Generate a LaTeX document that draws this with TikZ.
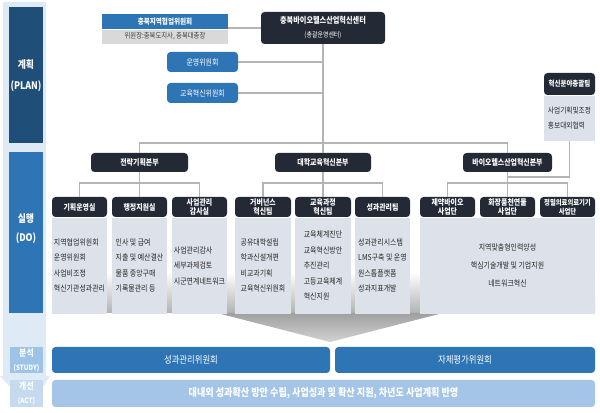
\documentclass[tikz,border=0pt]{standalone}
\usepackage{fontspec}
\setmainfont{Noto Sans CJK KR}[FakeStretch=0.85]
\usetikzlibrary{positioning}

\newcommand{\unitpx}{0.025cm}

\definecolor{planblue}{HTML}{1F4E79}
\definecolor{doblue}{HTML}{2E75B6}
\definecolor{studylabel}{HTML}{9DC3E6}
\definecolor{actlabel}{HTML}{C5DAEF}
\definecolor{stripblue}{HTML}{DEEBF7}
\definecolor{actbar}{HTML}{A4C5E7}
\definecolor{darkhead}{HTML}{242A35}
\definecolor{cellgray}{HTML}{DDE2EA}
\definecolor{subgray}{HTML}{D9D9D9}
\definecolor{linegray}{HTML}{B4B4B4}

\tikzset{
    phase/.style={text=white, inner sep=0pt, align=center},
    headbox/.style={fill=darkhead, text=white, rounded corners=2.5pt,
        inner sep=0pt, align=center},
    bluebox/.style={fill=doblue, text=white, rounded corners=2.5pt,
        inner sep=0pt, align=center},
    cellbox/.style={fill=cellgray, text=black!85, inner sep=0pt,
        font=\fontsize{5.8}{11}\selectfont},
    colhead/.style={headbox, minimum width=55*\unitpx,
        minimum height=20*\unitpx,
        font=\bfseries\fontsize{5.8}{6.6}\selectfont},
    colbody/.style={cellbox, minimum width=55*\unitpx,
        minimum height=96*\unitpx, align=left},
    link/.style={draw=linegray, line width=0.8pt}
}

\begin{document}
\begin{tikzpicture}[x=0.025cm, y=-0.025cm]

    \useasboundingbox (0,0) rectangle (600,413);

    \fill[stripblue] (3,2) -- (46,2) -- (46,376) -- (50,376) -- (43,387)
        -- (10,387) -- (0,376) -- (3,376) -- cycle;

    \fill[planblue] (9,7) rectangle (43,143);
    \node[phase, font=\bfseries\fontsize{7.4}{15}\selectfont] (plan) at (26,76)
        {계획\\(PLAN)};
    \fill[doblue] (9,152) rectangle (43,313);
    \node[phase, font=\bfseries\fontsize{7.4}{13.5}\selectfont] (do) at (26,229)
        {실행\\(DO)};
    \fill[studylabel] (10,347) rectangle (43,373);
    \node[phase, font=\bfseries\fontsize{6.6}{10}\selectfont] (study) at (26.5,360)
        {분석\\{\fontsize{5.2}{6}\selectfont(STUDY)}};
    \fill[actlabel] (10,380) rectangle (43,407);
    \node[phase, font=\bfseries\fontsize{6.6}{10}\selectfont] (act) at (26.5,393.5)
        {개선\\{\fontsize{5.2}{6}\selectfont(ACT)}};

    \node[fill=doblue,
        text=white,
        inner sep=0pt,
        minimum width=126*\unitpx,
        minimum height=15*\unitpx,
        font=\bfseries\fontsize{5.5}{6}\selectfont
    ] (council) at (165,21.5){충북지역협업위원회};
    \node[fill=subgray,
        text=black!75,
        inner sep=0pt,
        minimum width=126*\unitpx,
        minimum height=14*\unitpx,
        font=\fontsize{5.3}{6}\selectfont,
        below=0pt of council
    ] (councilsub){위원장:충북도지사, 충북대총장};

    \node[headbox,
        minimum width=124*\unitpx,
        minimum height=32*\unitpx,
        font=\bfseries\fontsize{6}{10}\selectfont
    ] (center) at (323,28){충북바이오헬스산업혁신센터\\
        {\mdseries\fontsize{5}{6}\selectfont(총괄운영센터)}};

    \node[bluebox,
        minimum width=71*\unitpx,
        minimum height=20*\unitpx,
        font=\fontsize{5.8}{6}\selectfont
    ] (ops) at (202.5,62){운영위원회};
    \node[bluebox,
        minimum width=71*\unitpx,
        minimum height=20*\unitpx,
        font=\fontsize{5.8}{6}\selectfont
    ] (edu) at (202.5,93){교육혁신위원회};

    \node[headbox,
        minimum width=51*\unitpx,
        minimum height=22*\unitpx,
        font=\bfseries\fontsize{5.4}{6}\selectfont
    ] (tf) at (569.5,84){혁신분야총괄팀};
    \node[cellbox,
        minimum width=51*\unitpx,
        minimum height=45*\unitpx,
        align=left,
        font=\fontsize{5.6}{11}\selectfont,
        below=0pt of tf
    ] (tfbody){사업기획및조정\\홍보대외협력};

    \node[headbox,
        minimum width=97*\unitpx,
        minimum height=19*\unitpx,
        font=\bfseries\fontsize{5.8}{6}\selectfont
    ] (strat) at (139.5,162.5){전략기획본부};
    \node[headbox,
        minimum width=96*\unitpx,
        minimum height=19*\unitpx,
        font=\bfseries\fontsize{5.8}{6}\selectfont
    ] (univ) at (323,162.5){대학교육혁신본부};
    \node[headbox,
        minimum width=89*\unitpx,
        minimum height=19*\unitpx,
        font=\bfseries\fontsize{5.8}{6}\selectfont
    ] (bio) at (507.5,162.5){바이오헬스산업혁신본부};

    \shade[top color=white, bottom color=gray!60] (52,272) rectangle (595,313);
    \shade[top color=gray!75, bottom color=gray!35]
        (217,313) -- (443,313) -- (330,342) -- cycle;

    \node[colhead] (c1) at (79.5,207){기획운영실};
    \node[colhead] (c2) at (139.5,207){행정지원실};
    \node[colhead] (c3) at (199.5,207){사업관리\\감사실};
    \node[colhead, minimum width=56*\unitpx] (c4) at (263,207){거버넌스\\혁신팀};
    \node[colhead, minimum width=56*\unitpx] (c5) at (323,207){교육과정\\혁신팀};
    \node[colhead] (c6) at (382.5,207){성과관리팀};
    \node[colhead] (c7) at (447.5,207){제약바이오\\사업단};
    \node[colhead] (c8) at (507.5,207){화장품천연물\\사업단};
    \node[colhead, font=\bfseries\fontsize{5.3}{6.6}\selectfont] (c9) at (567.5,207){정밀의료의료기기\\사업단};

    \node[colbody, below=0pt of c1] (b1)
        {지역협업위원회\\운영위원회\\사업비조정\\혁신기관성과관리};
    \node[colbody, below=0pt of c2] (b2)
        {인사 및 급여\\지출 및 예산결산\\물품 중앙구매\\기록물관리 등};
    \node[colbody, below=0pt of c3] (b3)
        {사업관리감사\\세부과제검토\\시군연계네트워크};
    \node[colbody, minimum width=56*\unitpx, below=0pt of c4] (b4)
        {공유대학설립\\학과신설개편\\비교과기획\\교육혁신위원회};
    \node[colbody, minimum width=56*\unitpx, below=0pt of c5] (b5)
        {교육체계진단\\교육혁신방안\\추진관리\\고등교육체계\\혁신지원};
    \node[colbody, below=0pt of c6] (b6)
        {성과관리시스템\\LMS구축 및 운영\\원스톱플랫폼\\성과지표개발};
    \node[cellbox,
        minimum width=175*\unitpx,
        minimum height=96*\unitpx,
        align=center,
        font=\fontsize{5.8}{12.8}\selectfont,
        below=0pt of c8
    ] (b789){지역맞춤형인력양성\\핵심기술개발 및 기업지원\\네트워크혁신};

    \coordinate (mainbus) at (323,143);
    \coordinate (sj) at (139.5,183);
    \coordinate (uj) at (323,183);
    \coordinate (bj) at (507.5,183);
    \coordinate (tj) at (507.5,177);

    \draw[link] (center.west) -- (center.west -| council.east);
    \draw[link] (center.south) -- (univ.north);
    \draw[link] (ops.east) -- (ops.east -| center.south);
    \draw[link] (edu.east) -- (edu.east -| center.south);
    \draw[link] (strat.north) |- (mainbus) -| (bio.north);
    \draw[link] (tfbody.south) |- (tj);
    \draw[link] (c1.north) |- (sj) -| (c3.north);
    \draw[link] (strat.south) -- (c2.north);
    \draw[link] (c4.north) |- (uj) -| (c6.north);
    \draw[link] (univ.south) -- (c5.north);
    \draw[link] (c7.north) |- (bj) -| (c9.north);
    \draw[link] (bio.south) -- (c8.north);

    \node[bluebox,
        minimum width=278*\unitpx,
        minimum height=26*\unitpx,
        font=\fontsize{7}{7}\selectfont
    ] (perf) at (191,360){성과관리위원회};
    \node[bluebox,
        minimum width=260*\unitpx,
        minimum height=26*\unitpx,
        font=\fontsize{7}{7}\selectfont
    ] (self) at (465,360){자체평가위원회};
    \node[fill=actbar,
        text=white,
        rounded corners=2.5pt,
        inner sep=0pt,
        minimum width=543*\unitpx,
        minimum height=27*\unitpx,
        font=\bfseries\fontsize{7.6}{8}\selectfont
    ] (plan act) at (323.5,393.5){대내외 성과확산 방안 수립, 사업성과 및 확산 지원, 차년도 사업계획 반영};

\end{tikzpicture}
\end{document}
